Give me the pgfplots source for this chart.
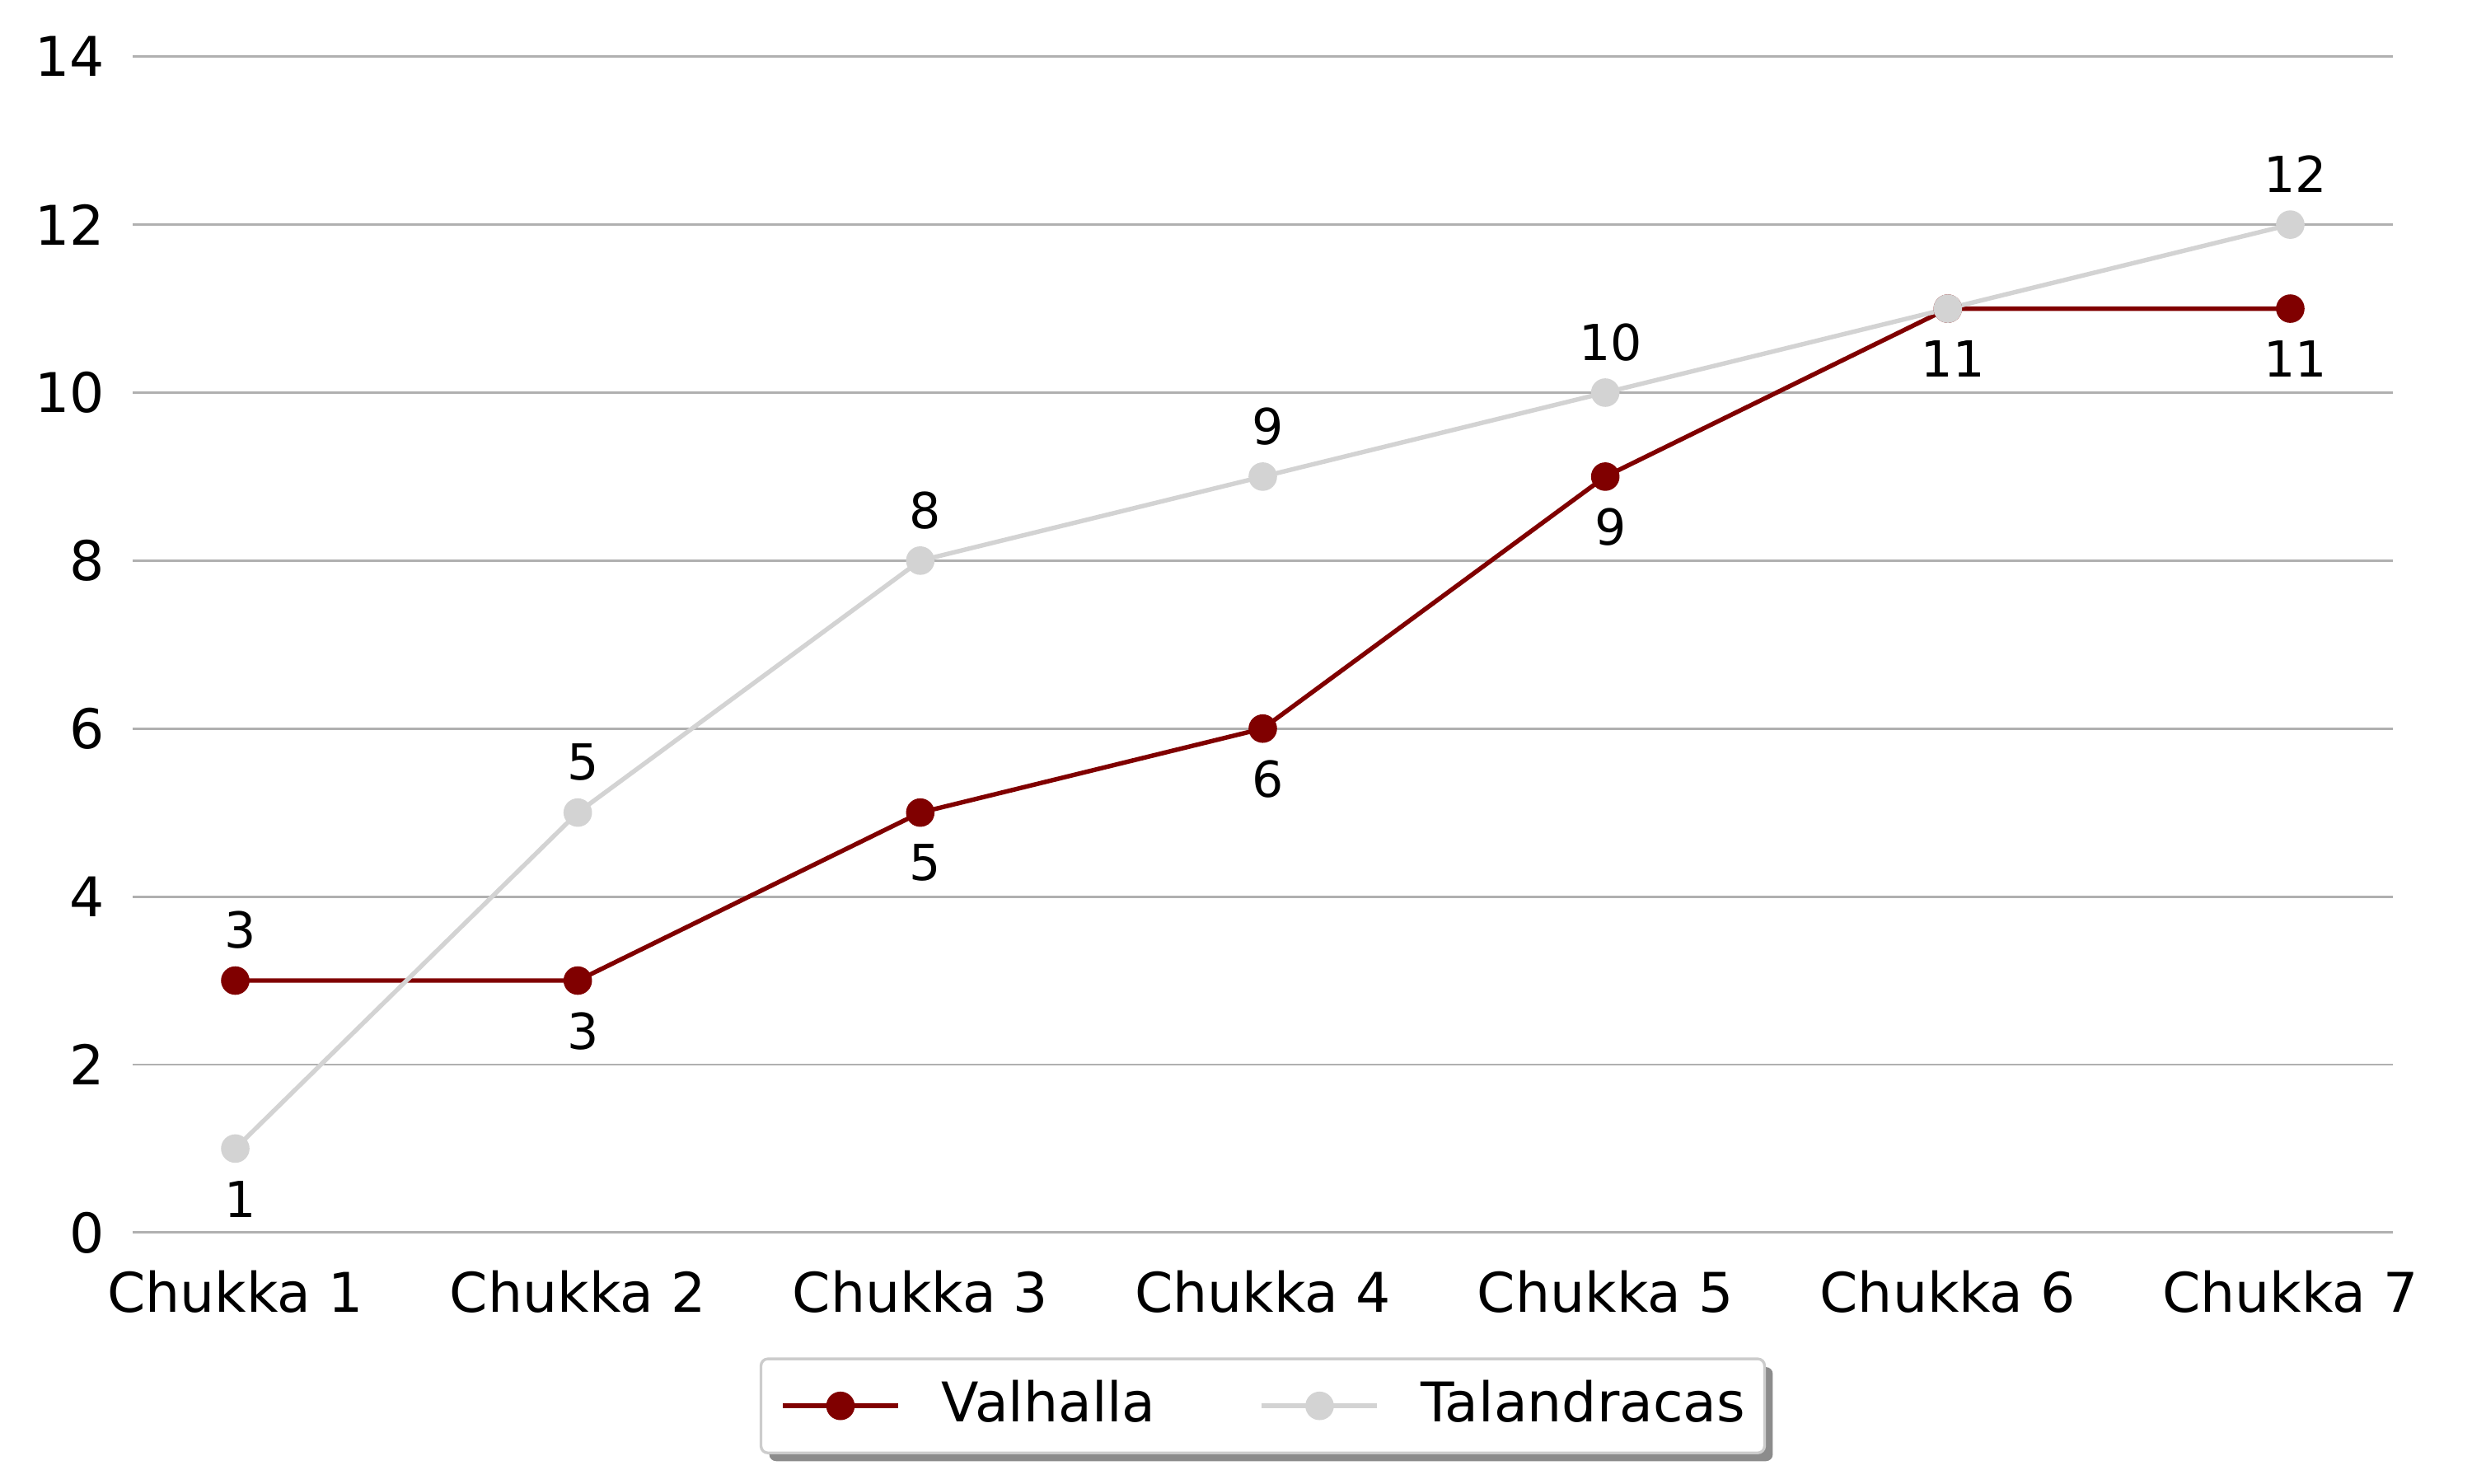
\documentclass[border=0pt]{standalone}
\usepackage{pgfplots}
\pgfplotsset{compat=1.18}
\usepackage{fontspec}
\setmainfont{DejaVu Sans}
\usetikzlibrary{backgrounds}
\definecolor{valh}{HTML}{800000}
\definecolor{tala}{HTML}{D3D3D3}
\definecolor{gridc}{HTML}{B0B0B0}
\definecolor{legc}{HTML}{CCCCCC}

\pgfplotstableread{
x y d
0 3 1
1 3 -1
2 5 -1
3 6 -1
4 9 -1
5 11 -1
6 11 -1
}\valtab
\pgfplotstableread{
x y d
0 1 -1
1 5 1
2 8 1
3 9 1
4 10 1
5 11 -1
6 12 1
}\taltab

\begin{document}
\begin{tikzpicture}
\path[use as bounding box] (-38.6bp,-73bp) rectangle (681.4bp,359bp);
\begin{axis}[
  scale only axis, width=658.4bp, height=342.5bp,
  xmin=-0.3, xmax=6.3, ymin=0, ymax=14,
  xtick={0,1,2,3,4,5,6},
  xticklabels={Chukka 1,Chukka 2,Chukka 3,Chukka 4,Chukka 5,Chukka 6,Chukka 7},
  ytick={0,2,4,6,8,10,12,14},
  axis line style={draw=none},
  major tick length=0pt,
  ymajorgrids, grid style={gridc, line width=0.7bp},
  tick label style={font=\fontsize{16}{19}\selectfont},
  /pgf/number format/assume math mode=true,
  xticklabel style={inner sep=0pt, anchor=north, yshift=-11bp},
  yticklabel style={inner sep=0pt, anchor=east, xshift=-8bp},
  clip=false,
  legend style={name=leg, at={(0.5,-0.1074)}, anchor=north, legend columns=2,
    draw=none, fill=none,
    inner xsep=5.5bp, inner ysep=6.4bp,
    font=\fontsize{16}{19}\selectfont,
    nodes={inner sep=0pt, text height=11.7bp, text depth=2.5bp},
    /tikz/every odd column/.style={column sep=12bp},
    /tikz/every even column/.style={column sep=30.3bp}},
  legend image code/.code={\draw[mark repeat=2,mark phase=2,#1] plot coordinates {(0bp,0bp) (16.8bp,0bp) (33.6bp,0bp)};},
  nodes near coords={\pgfmathprintnumber{\pgfplotspointmeta}},
  visualization depends on={\thisrow{d} \as \dir},
  every node near coord/.style={anchor=center, inner sep=0pt, text=black,
     font=\fontsize{14.5}{17}\selectfont, yshift=\dir*14.7bp, xshift=1.5bp},
]
\addplot[valh, line width=1.3bp, mark=*, mark size=3.5bp, mark options={solid, fill=valh, draw=valh}, point meta=explicit]
  table[x=x, y=y, meta=y] {\valtab};
\addlegendentry{Valhalla}
\addplot[tala, line width=1.3bp, mark=*, mark size=3.5bp, mark options={solid, fill=tala, draw=tala}, point meta=explicit]
  table[x=x, y=y, meta=y] {\taltab};
\addlegendentry{Talandracas}
\end{axis}
\begin{scope}[on background layer]
\fill[black!45, rounded corners=2bp] ([xshift=2.4bp,yshift=-2.4bp]leg.south west) rectangle ([xshift=2.4bp,yshift=-2.4bp]leg.north east);
\filldraw[fill=white, draw=legc, line width=0.8bp, rounded corners=2bp] (leg.south west) rectangle (leg.north east);
\end{scope}
\end{tikzpicture}
\end{document}
